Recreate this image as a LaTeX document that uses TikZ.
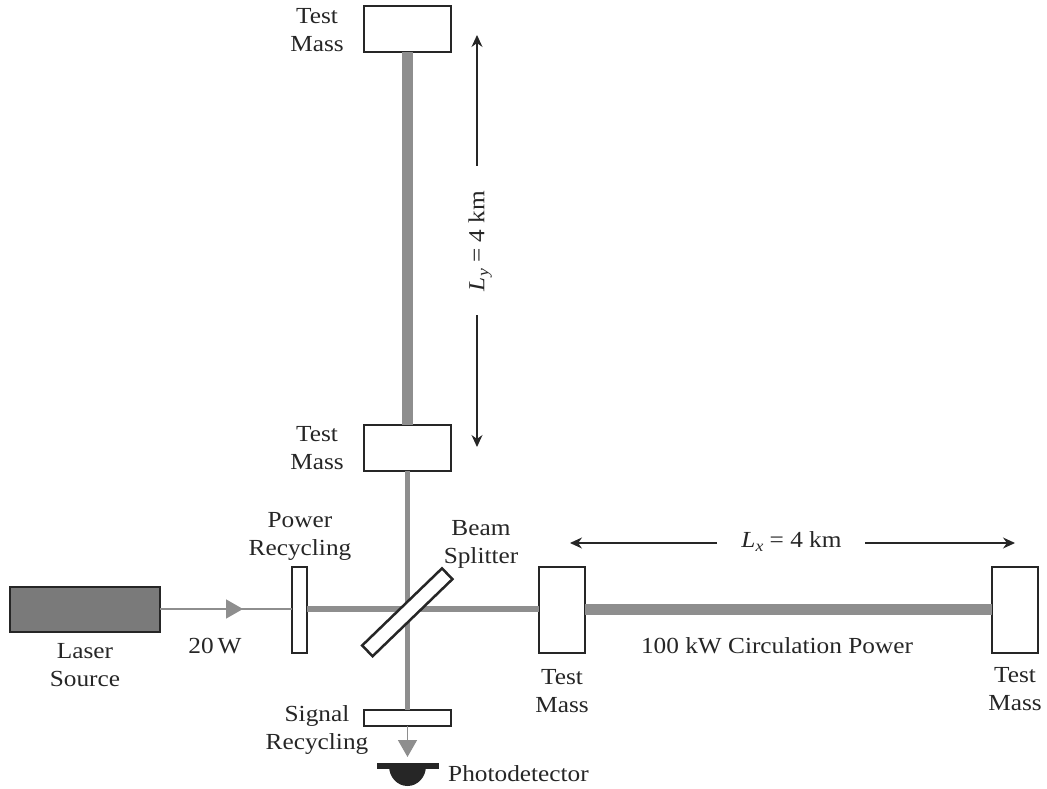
\documentclass[tikz,border=0pt]{standalone}
\usepackage{fontspec}
\setmainfont[FakeStretch=1.1]{Liberation Serif}
\usetikzlibrary{arrows.meta}
\definecolor{beam}{HTML}{8E8E8E}
\definecolor{ink}{HTML}{262626}
\definecolor{laserfill}{HTML}{7A7A7A}
\newcommand{\subit}[1]{\raisebox{-4pt}{\fontsize{16}{16}\selectfont\itshape #1}}
\tikzset{
  box/.style={draw=ink,line width=2.5pt,fill=white,inner sep=0pt,outer sep=0pt,rectangle},
  lbl/.style={text=ink,align=center,inner sep=0pt,font=\fontsize{23}{28}\selectfont},
  thickbeam/.style={beam,line width=11pt},
  midbeam/.style={beam,line width=5.5pt},
  thinbeam/.style={beam,line width=1.6pt},
  beamtip/.style={beam,line width=1.6pt,-{Triangle[length=17pt,width=19pt]},shorten >=0pt},
  dimline/.style={ink,line width=1.1pt,-{Stealth[length=12pt,width=11pt]}}
}
\begin{document}
\begin{tikzpicture}[x=1pt,y=-1pt]
\useasboundingbox (0,0) rectangle (1047,789);
% mirrors
\node[box,minimum width=87pt,minimum height=46pt] (tmtop) at (407.5,29) {};
\node[box,minimum width=87pt,minimum height=46pt] (tmlow) at (407.5,448) {};
\node[box,minimum width=15pt,minimum height=86pt] (pr) at (299.5,610) {};
\node[box,minimum width=46pt,minimum height=86pt] (tmx) at (562,610) {};
\node[box,minimum width=46pt,minimum height=86pt] (tmend) at (1015,610) {};
\node[box,minimum width=87pt,minimum height=16pt] (sr) at (407.5,718) {};
\node[box,fill=laserfill,minimum width=150pt,minimum height=45pt] (laser) at (85,609.5) {};
% beams
\draw[thickbeam] (tmtop.south) -- (tmlow.north);
\draw[midbeam] (tmlow.south) -- (sr.north);
\draw[midbeam] (pr.east |- 0,609) -- (tmx.west |- 0,609);
\draw[thickbeam] (tmx.east |- 0,609) -- (tmend.west |- 0,609);
\draw[thinbeam] (laser.east |- 0,609) -- (pr.west |- 0,609);
\coordinate (lasertip) at (243,609);
\draw[beamtip] (laser.east |- 0,609) -- (lasertip);
\coordinate (dettip) at (407.5,757);
\draw[beamtip] (sr.south) -- (dettip);
% beam splitter
\node[box,minimum width=111pt,minimum height=15pt,rotate=44] (bs) at (407.3,612.3) {};
% photodetector
\fill[ink] (389,766) arc[start angle=180,end angle=360,x radius=18.5pt,y radius=20pt] -- cycle;
\node[fill=ink,inner sep=0pt,minimum width=62pt,minimum height=6pt] (det) at (407.5,766) {};
% dimension lines
\coordinate (ytop) at (477,35);
\coordinate (ya) at (477,166);
\coordinate (ybot) at (477,447);
\coordinate (yb) at (477,315);
\draw[dimline] (ya) -- (ytop);
\draw[dimline] (yb) -- (ybot);
\coordinate (xl) at (570,543);
\coordinate (xa) at (717,543);
\coordinate (xr) at (1015,543);
\coordinate (xb) at (865,543);
\draw[dimline] (xa) -- (xl);
\draw[dimline] (xb) -- (xr);
% labels
\node[lbl] (t1) at (317,30.5) {Test\\Mass};
\node[lbl] (t2) at (317,448.5) {Test\\Mass};
\node[lbl] (t3) at (562,691.5) {Test\\Mass};
\node[lbl] (t4) at (1015,689) {Test\\Mass};
\node[lbl] (l1) at (300,536) {Power\\Recycling};
\node[lbl] (l2) at (481,544) {Beam\\Splitter};
\node[lbl] (l3) at (85,665) {Laser\\Source};
\node[lbl] (l4) at (215,646) {20\,W};
\node[lbl] (l5) at (317,730) {Signal\\Recycling};
\node[lbl,anchor=west] (l6) at (448,774) {Photodetector};
\node[lbl] (l7) at (777,646) {100 kW Circulation Power};
\node[lbl] (l8) at (791.5,542) {\textit{L}\subit{x} = 4 km};
\node[lbl,rotate=90] (l9) at (480,241) {\textit{L}\subit{y} = 4 km};
\end{tikzpicture}
\end{document}
